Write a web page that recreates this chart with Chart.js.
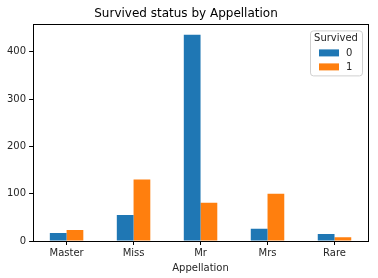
<!DOCTYPE html>
<html>
<head>
<meta charset="utf-8">
<script src="https://cdn.jsdelivr.net/npm/chart.js@4.4.1/dist/chart.umd.min.js"></script>
<style>
  html, body { margin: 0; padding: 0; background: #fff; }
  #wrap { width: 378px; height: 278px; }
</style>
</head>
<body>
<div id="wrap"><canvas id="chart" width="378" height="278"></canvas></div>
<script>
// data
const appellations = ["Master", "Miss", "Mr", "Mrs", "Rare"];
const died = [17, 55, 436, 26, 15];
const survived = [23, 130, 81, 100, 8];
const seriesLabels = ["0", "1"];
const yTicks = [0, 100, 200, 300, 400];

const FONT = "'DejaVu Sans', sans-serif";
const TXT = "#262626";

// full box around the plot + legend inside the axes
const framePlugin = {
  id: "frame",
  afterDraw(chart) {
    const { ctx, chartArea: a } = chart;
    ctx.save();
    ctx.strokeStyle = "#000";
    ctx.lineWidth = 1;
    ctx.strokeRect(Math.round(a.left) + 0.5, Math.round(a.top) + 0.5,
      Math.round(a.right - a.left), Math.round(a.bottom - a.top));

    // legend
    const w = 52, h = 45;
    const x = a.right - 6 - w, y = a.top + 6;
    ctx.beginPath();
    ctx.roundRect(x + 0.5, y + 0.5, w, h, 3);
    ctx.fillStyle = "rgba(255,255,255,0.8)";
    ctx.fill();
    ctx.strokeStyle = "#d0d0d0";
    ctx.stroke();
    ctx.fillStyle = TXT;
    ctx.font = "10px " + FONT;
    ctx.textAlign = "center";
    ctx.textBaseline = "middle";
    ctx.fillText("Survived", x + w / 2, y + 8);
    ctx.textAlign = "left";
    chart.data.datasets.forEach((ds, i) => {
      const ry = y + 22 + i * 14;
      ctx.fillStyle = ds.backgroundColor;
      ctx.fillRect(x + 9, ry - 3, 20, 7);
      ctx.fillStyle = TXT;
      ctx.fillText(ds.label, x + 36, ry + 1);
    });
    ctx.restore();
  }
};

new Chart(document.getElementById("chart"), {
  type: "bar",
  data: {
    labels: appellations,
    datasets: [
      { label: seriesLabels[0], data: died, backgroundColor: "#1f77b4" },
      { label: seriesLabels[1], data: survived, backgroundColor: "#ff7f0e" }
    ]
  },
  options: {
    responsive: false,
    animation: false,
    layout: { padding: { left: 4, right: 10, top: 0, bottom: 4 } },
    categoryPercentage: 0.5,
    barPercentage: 1.0,
    plugins: {
      legend: { display: false },
      tooltip: { enabled: false },
      title: {
        display: true,
        text: "Survived status by Appellation",
        color: "#000",
        font: { family: FONT, size: 12, weight: "normal" },
        padding: { top: 7, bottom: 3 }
      }
    },
    scales: {
      x: {
        grid: { display: true, offset: false, drawOnChartArea: false, drawTicks: true, tickLength: 4, color: "#000" },
        border: { display: true, color: "#000" },
        ticks: { color: TXT, font: { family: FONT, size: 10 }, padding: 2, maxRotation: 0 },
        title: { display: true, text: "Appellation", color: TXT, font: { family: FONT, size: 10 }, padding: { top: 1, bottom: 0 } }
      },
      y: {
        min: 0,
        max: 457.8,
        grid: { display: true, drawOnChartArea: false, drawTicks: true, tickLength: 4, color: "#000" },
        border: { display: true, color: "#000" },
        afterBuildTicks(scale) { scale.ticks = yTicks.map(v => ({ value: v })); },
        ticks: { color: TXT, font: { family: FONT, size: 10 }, padding: 3 }
      }
    }
  },
  plugins: [framePlugin]
});
</script>
</body>
</html>
